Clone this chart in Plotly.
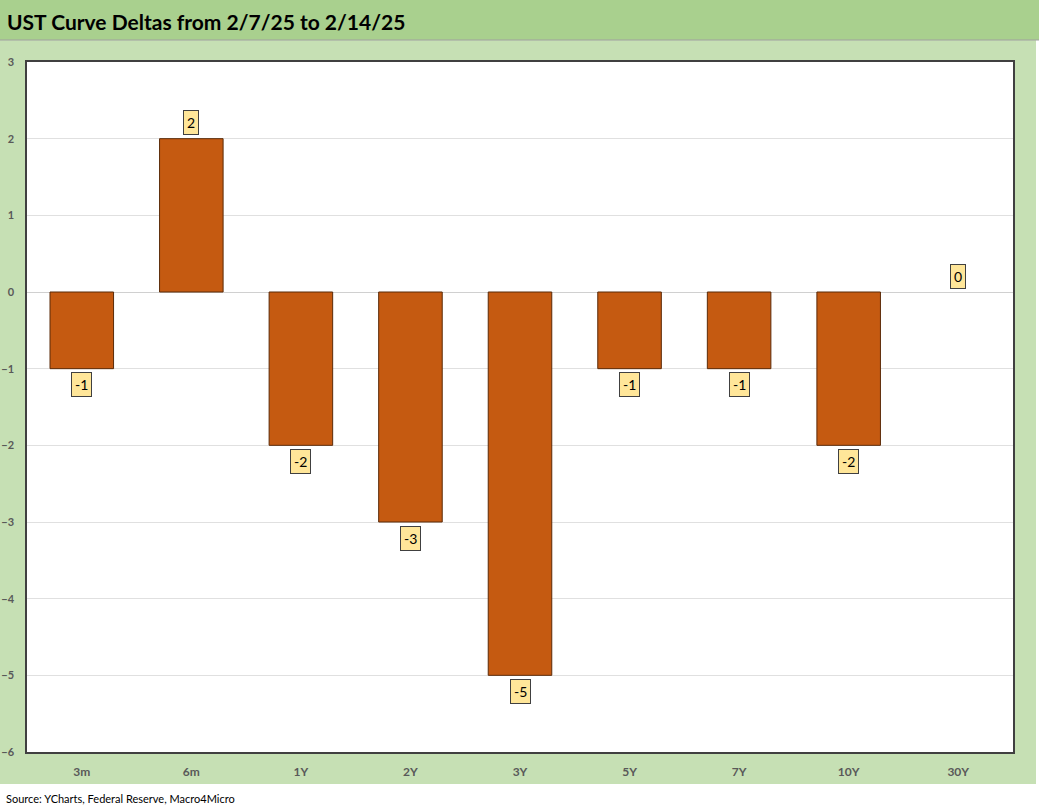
import plotly.graph_objects as go

# UST curve changes (bp) week over week
tenors = ["3m", "6m", "1Y", "2Y", "3Y", "5Y", "7Y", "10Y", "30Y"]
deltas = [-1, 2, -2, -3, -5, -1, -1, -2, 0]
y_ticks = [3, 2, 1, 0, -1, -2, -3, -4, -5, -6]

W, H = 1039, 811
L, R, T, B = 27, 26, 62, 59
pw, ph = W - L - R, H - T - B


def px(x):
    return (x - L) / pw


def py(y):
    return (H - B - y) / ph


fig = go.Figure()
fig.add_trace(go.Bar(
    x=tenors, y=deltas,
    marker=dict(color="#c55a11",
                line=dict(color="#5b2a08", width=[0 if v == 0 else 1 for v in deltas])),
    width=0.58,
    hoverinfo="x+y",
))

# value labels in yellow boxes
for t, v in zip(tenors, deltas):
    fig.add_annotation(
        x=t, y=v, text=str(v), showarrow=False,
        yshift=-16 if v < 0 else 16,
        font=dict(size=14, color="black", family="Lato"),
        bgcolor="#ffe699", bordercolor="#404040", borderwidth=1, borderpad=3,
    )

# backgrounds
fig.add_shape(type="rect", xref="paper", yref="paper", layer="below",
              x0=px(0), x1=px(1036), y0=py(40), y1=py(784),
              fillcolor="#c6e0b4", line_width=0)
fig.add_shape(type="rect", xref="paper", yref="paper", layer="below",
              x0=px(0), x1=px(1039), y0=py(0), y1=py(40),
              fillcolor="#a9d08e", line_width=0)
fig.add_shape(type="line", xref="paper", yref="paper", layer="below",
              x0=px(0), x1=px(1039), y0=py(40), y1=py(40),
              line=dict(color="#a0a0a0", width=1))
fig.add_shape(type="rect", xref="paper", yref="paper", layer="below",
              x0=0, x1=1, y0=0, y1=1, fillcolor="white", line_width=0)

fig.add_annotation(
    xref="paper", yref="paper", x=px(5), y=py(21),
    xanchor="left", yanchor="middle", showarrow=False,
    text="<b>UST Curve Deltas from 2/7/25 to 2/14/25</b>",
    font=dict(size=21, color="black", family="Lato"),
)
fig.add_annotation(
    xref="paper", yref="paper", x=px(4), y=py(799),
    xanchor="left", yanchor="middle", showarrow=False,
    text="Source: YCharts, Federal Reserve, Macro4Micro",
    font=dict(size=11, color="black", family="Lato"),
)

fig.update_layout(
    width=W, height=H,
    margin=dict(l=L, r=R, t=T, b=B, autoexpand=False),
    paper_bgcolor="white", plot_bgcolor="white",
    showlegend=False,
    font=dict(family="Lato"),
)
fig.update_xaxes(
    showline=True, mirror=True, linecolor="#404040", linewidth=1.5,
    showgrid=False, ticks="", automargin=False,
    tickfont=dict(size=12, color="#595959", family="Lato", weight="bold"),
    ticklabelstandoff=8,
)
fig.update_yaxes(
    range=[-6, 3], tickvals=y_ticks,
    showline=True, mirror=True, linecolor="#404040", linewidth=1.5,
    showgrid=True, gridcolor="#e0e0e0", gridwidth=1,
    zeroline=True, zerolinecolor="#d0d0d0", zerolinewidth=1,
    ticks="", automargin=False,
    tickfont=dict(size=11, color="#595959", family="Lato", weight="bold"),
    ticklabelstandoff=9,
)

fig.write_html("out.html", config={"displayModeBar": False},
               post_script="document.body.style.margin='0';")
